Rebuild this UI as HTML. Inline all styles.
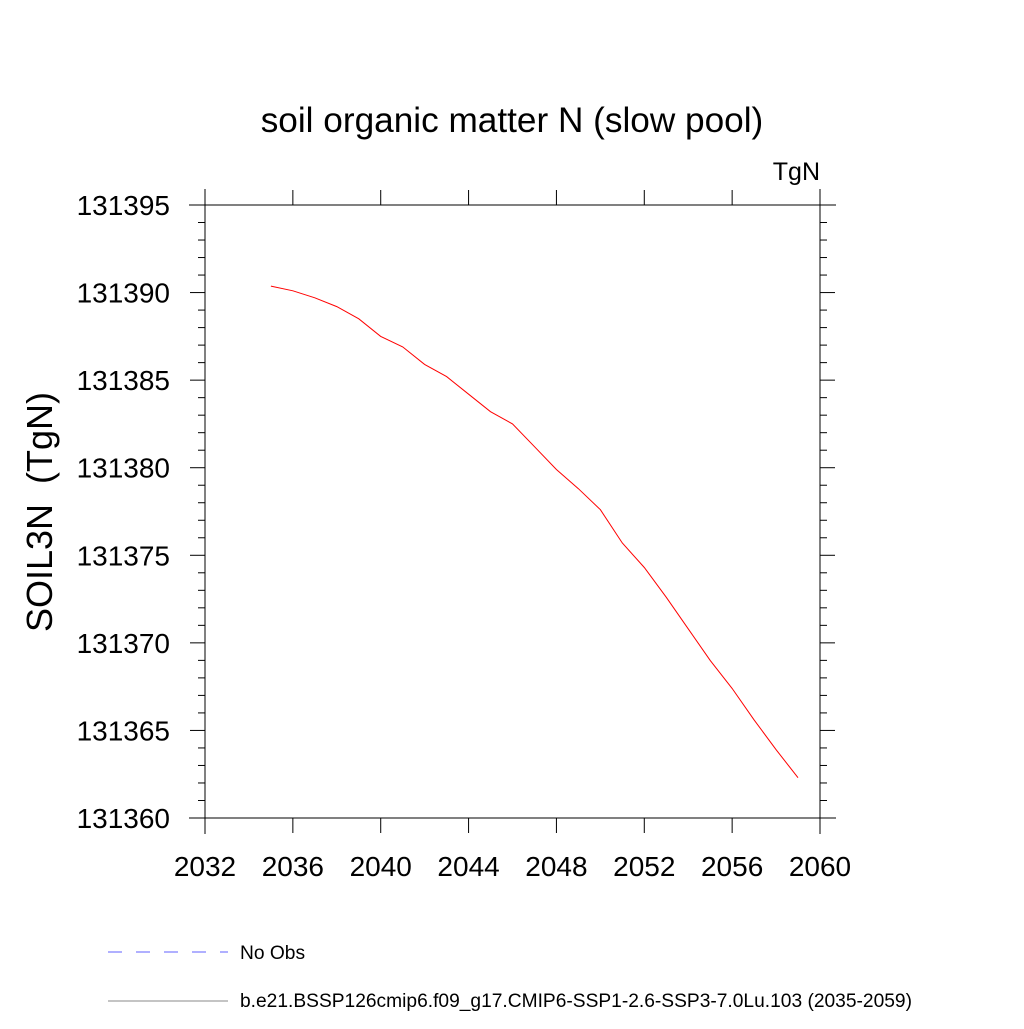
<!DOCTYPE html>
<html><head><meta charset="utf-8"><style>
body{margin:0;background:#fff}
svg text{font-family:"Liberation Sans",Arial,sans-serif;fill:#000;white-space:pre}
</style></head><body>
<svg id="c" width="1024" height="1024" xmlns="http://www.w3.org/2000/svg">
<text x="512" y="132" font-size="35.2" text-anchor="middle">soil organic matter N (slow pool)</text>
<text x="820" y="180" font-size="25" text-anchor="end">TgN</text>
<text transform="translate(52,512) rotate(-90)" font-size="36" text-anchor="middle" xml:space="preserve">SOIL3N  (TgN)</text>
<g stroke="#000" stroke-width="1">
<line x1="205" y1="189" x2="205" y2="834"/>
<line x1="820" y1="189" x2="820" y2="834"/>
<line x1="189" y1="205" x2="836" y2="205"/>
<line x1="189" y1="818" x2="836" y2="818"/>
</g>
<g id="ticks"></g>
<path id="series" fill="none" stroke="#ff0000" stroke-width="1"/>
<line x1="108" y1="952" x2="228" y2="952" stroke="#6060ff" stroke-dasharray="14,14"/>
<text x="240" y="959" font-size="19.2">No Obs</text>
<line x1="108" y1="1001" x2="228" y2="1001" stroke="#888"/>
<text x="240" y="1007" font-size="19.2">b.e21.BSSP126cmip6.f09_g17.CMIP6-SSP1-2.6-SSP3-7.0Lu.103 (2035-2059)</text>
</svg>
<script>
const years=[2035,2036,2037,2038,2039,2040,2041,2042,2043,2044,2045,2046,2047,2048,2049,2050,2051,2052,2053,2054,2055,2056,2057,2058,2059];
const values=[131390.37,131390.1,131389.7,131389.2,131388.5,131387.5,131386.9,131385.9,131385.2,131384.2,131383.2,131382.5,131381.2,131379.9,131378.8,131377.6,131375.7,131374.3,131372.6,131370.8,131369.0,131367.4,131365.6,131363.9,131362.3];
const xTicks=[2032,2036,2040,2044,2048,2052,2056,2060];
const yTicks=[131360,131365,131370,131375,131380,131385,131390,131395];
const X0=205,X1=820,Y0=818,Y1=205,xmin=2032,xmax=2060,ymin=131360,ymax=131395;
const sx=v=>X0+(v-xmin)/(xmax-xmin)*(X1-X0);
const sy=v=>Y0-(v-ymin)/(ymax-ymin)*(Y0-Y1);
const NS="http://www.w3.org/2000/svg";
const g=document.getElementById('ticks');
function ln(x1,y1,x2,y2,name){const l=document.createElementNS(NS,'line');
l.setAttribute('x1',x1);l.setAttribute('y1',y1);l.setAttribute('x2',x2);l.setAttribute('y2',y2);l.setAttribute('stroke','#000');


g.appendChild(l);}
function tx(x,y,s,anchor,name){const t=document.createElementNS(NS,'text');
t.setAttribute('x',x);t.setAttribute('y',y);t.setAttribute('font-size','28');t.setAttribute('text-anchor',anchor);t.textContent=s;


g.appendChild(t);}
xTicks.forEach(v=>{const x=sx(v);ln(x,Y0,x,Y0+15,'x-tick');ln(x,Y1,x,Y1-15,'x-tick-top');});
xTicks.forEach(v=>tx(sx(v),876,String(v),'middle','x-tick-label'));
for(let v=ymin;v<=ymax;v++){const y=sy(v);const major=yTicks.includes(v);const L=major?15:7;
ln(X0,y,X0-L,y,'y-tick');ln(X1,y,X1+L,y,'y-tick-right');}
yTicks.forEach(v=>tx(170,sy(v)+10,String(v),'end','y-tick-label'));
document.getElementById('series').setAttribute('d',years.map((y,i)=>(i?'L':'M')+sx(y).toFixed(1)+','+sy(values[i]).toFixed(1)).join(''));
</script>
</body></html>
